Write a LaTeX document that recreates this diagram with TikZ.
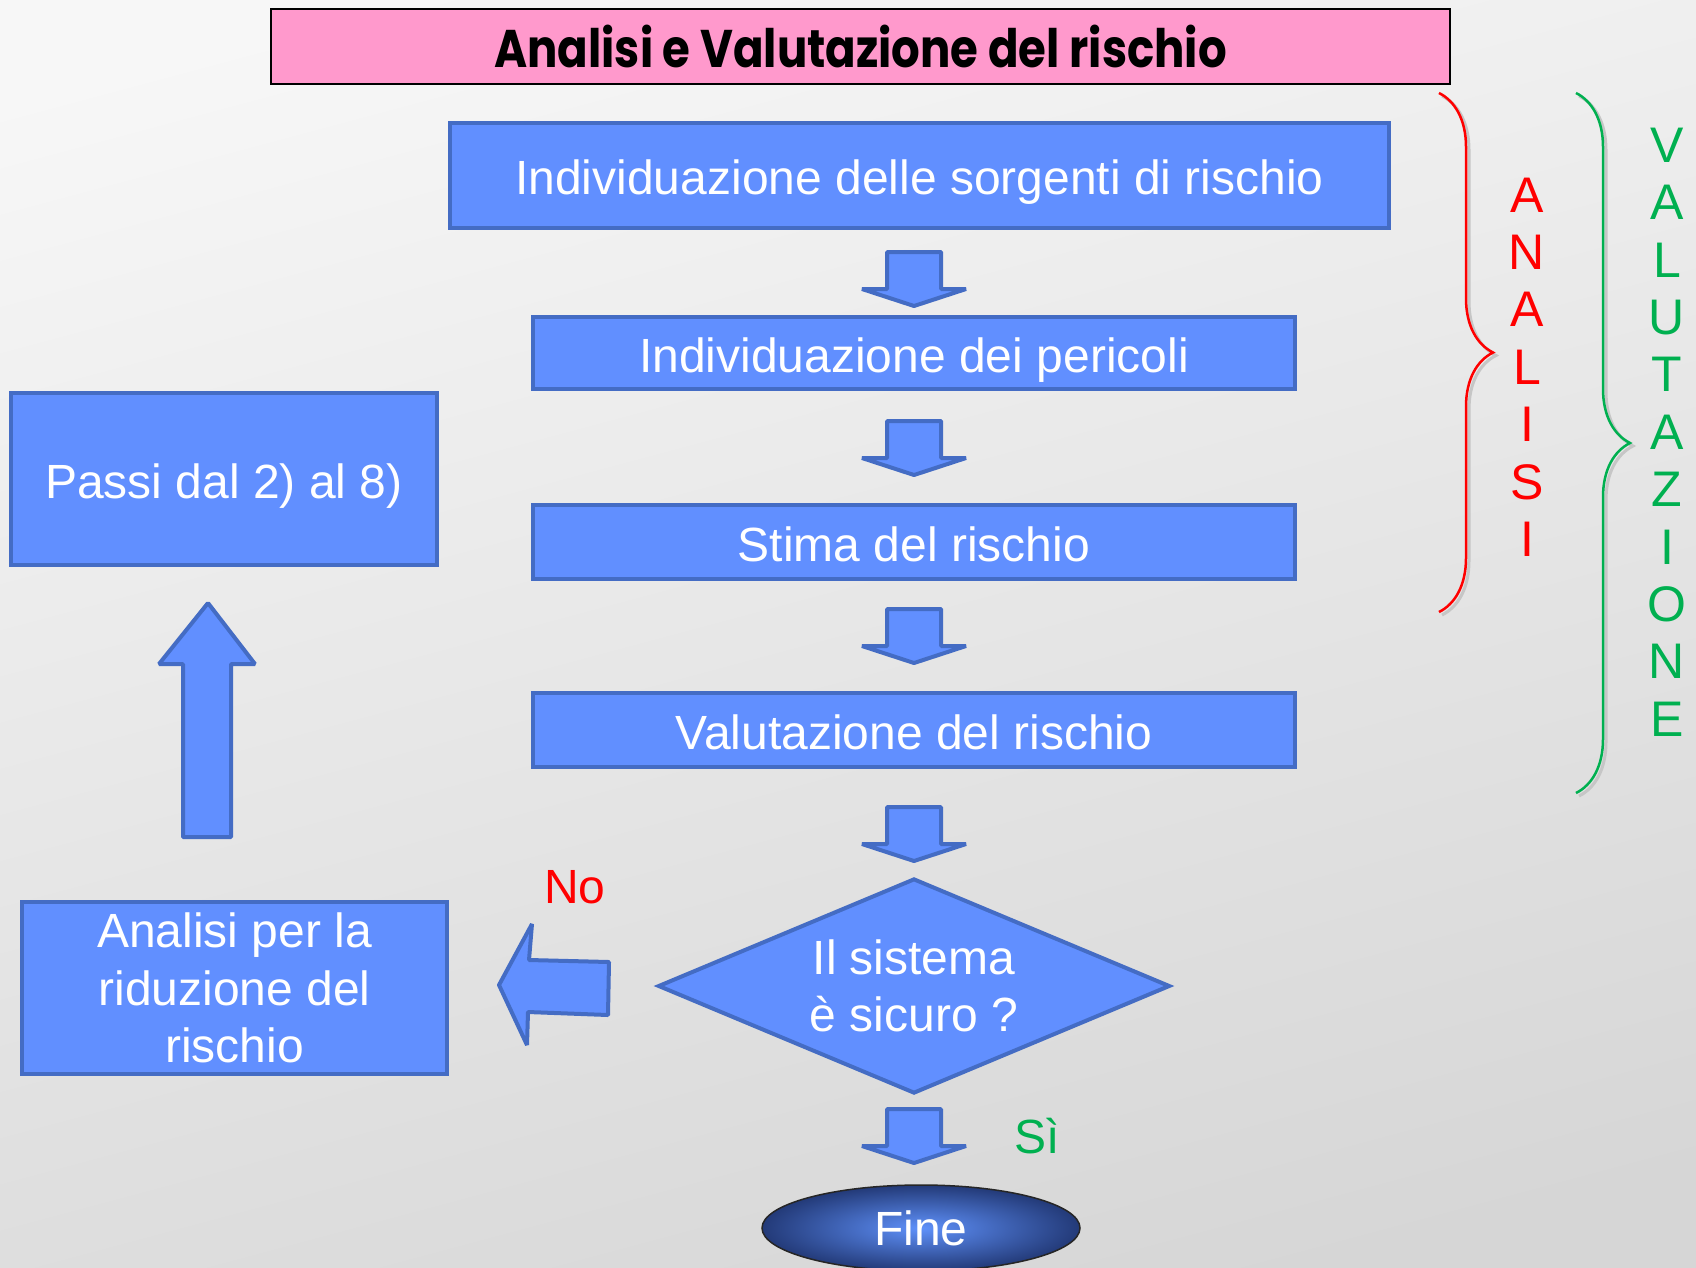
\documentclass[tikz,border=0pt]{standalone}
\usepackage{fontspec}
\setmainfont{Liberation Sans}
\newfontfamily\titlefont{Poppins}
\usetikzlibrary{shapes.geometric,decorations.pathreplacing,shadings}
\definecolor{boxfill}{RGB}{97,143,255}
\definecolor{boxdraw}{RGB}{68,108,196}
\definecolor{pinkfill}{RGB}{255,153,204}
\definecolor{rred}{RGB}{255,0,0}
\definecolor{ggreen}{RGB}{0,176,80}
\definecolor{bgtop}{RGB}{247,247,247}
\definecolor{bgbot}{RGB}{214,214,214}
\definecolor{fineinner}{RGB}{95,145,250}
\definecolor{fineouter}{RGB}{35,58,120}
\begin{document}
\begin{tikzpicture}[x=1pt,y=-1pt,
  blbox/.style={draw=boxdraw, fill=boxfill, line width=4pt, text=white,
    font=\fontsize{48}{57.5}\selectfont, inner sep=0pt, align=center},
  oneline/.style={text height=38pt, text depth=0pt},
  blkarrow/.style={draw=boxdraw, fill=boxfill, line width=4pt, line join=bevel},
  bracestyle/.style={line width=2.5pt, decorate, decoration={brace, amplitude=54pt}},
  braceshadow/.style={draw=gray!45, line width=3pt, decorate, decoration={brace, amplitude=54pt}},
  vletters/.style={font=\fontsize{50}{57.4}\selectfont, align=center, inner sep=0pt},
  pics/downarrow/.style={code={
    \draw[blkarrow] (-27,0) -- (27,0) -- (27,37) -- (52,37) -- (0,54) -- (-52,37) -- (-27,37) -- cycle;}}]
\useasboundingbox (0,0) rectangle (1696,1267);
\shade[top color=bgtop, bottom color=bgbot, shading angle=15] (-60,-60) rectangle (1756,1327);

% title
\node[draw=black, line width=2pt, fill=pinkfill, minimum width=1179pt, minimum height=75pt, inner sep=0pt]
  (title) at (860.5,46.5) {\scalebox{0.85}[1]{\titlefont\bfseries\fontsize{53}{60}\selectfont Analisi e Valutazione del rischio}};

% main column
\node[blbox, oneline, minimum width=939pt, minimum height=105pt] (b1) at (919.5,175.5) {Individuazione delle sorgenti di rischio};
\node[blbox, oneline, minimum width=762pt, minimum height=72pt] (b2) at (914,353) {Individuazione dei pericoli};
\node[blbox, oneline, minimum width=762pt, minimum height=74pt] (b3) at (914,542) {Stima del rischio};
\node[blbox, oneline, minimum width=762pt, minimum height=74pt] (b4) at (914,730) {Valutazione del rischio};
\node[blbox, diamond, aspect=2.38, minimum width=512pt, minimum height=215pt] (dec) at (914,986) {Il sistema\\è sicuro ?};
\node[ellipse, minimum width=318pt, minimum height=86pt, inner sep=0pt, draw=black!85, line width=1.5pt,
  inner color=fineinner, outer color=fineouter, text=white, font=\fontsize{48}{57.5}\selectfont]
  (fine) at (921,1228) {Fine};

\pic at (914,252) {downarrow};
\pic at (914,421) {downarrow};
\pic at (914,609) {downarrow};
\pic at (914,807) {downarrow};
\pic at (914,1109) {downarrow};

% left column
\node[blbox, oneline, minimum width=426pt, minimum height=172pt] (passi) at (224,479) {Passi dal 2) al 8)};
\node[blbox, minimum width=425pt, minimum height=172pt] (rid) at (234.5,988) {Analisi per la\\riduzione del\\rischio};
\draw[blkarrow] (183,837) -- (183,664) -- (159,664) -- (208,603) -- (255,664) -- (231,664) -- (231,837) -- cycle;
\draw[blkarrow] (609,962) -- (529,960) -- (532,924) -- (499,985) -- (527,1045) -- (528,1012) -- (608,1015) -- cycle;

\node[text=rred, font=\fontsize{48}{57.5}\selectfont, inner sep=0pt] (no) at (575,887) {No};
\node[text=ggreen, font=\fontsize{48}{57.5}\selectfont, inner sep=0pt] (si) at (1037,1136) {Sì};

% braces
\draw[braceshadow] (1442,96) -- (1442,615);
\draw[bracestyle, rred] (1439,93) -- (1439,612);
\draw[braceshadow] (1579,96) -- (1579,796);
\draw[bracestyle, ggreen] (1576,93) -- (1576,793);
\node[vletters, text=rred] (analisi) at (1527,367) {A\\N\\A\\L\\I\\S\\I};
\node[vletters, text=ggreen] (valut) at (1667,432) {V\\A\\L\\U\\T\\A\\Z\\I\\O\\N\\E};
\end{tikzpicture}
\end{document}
